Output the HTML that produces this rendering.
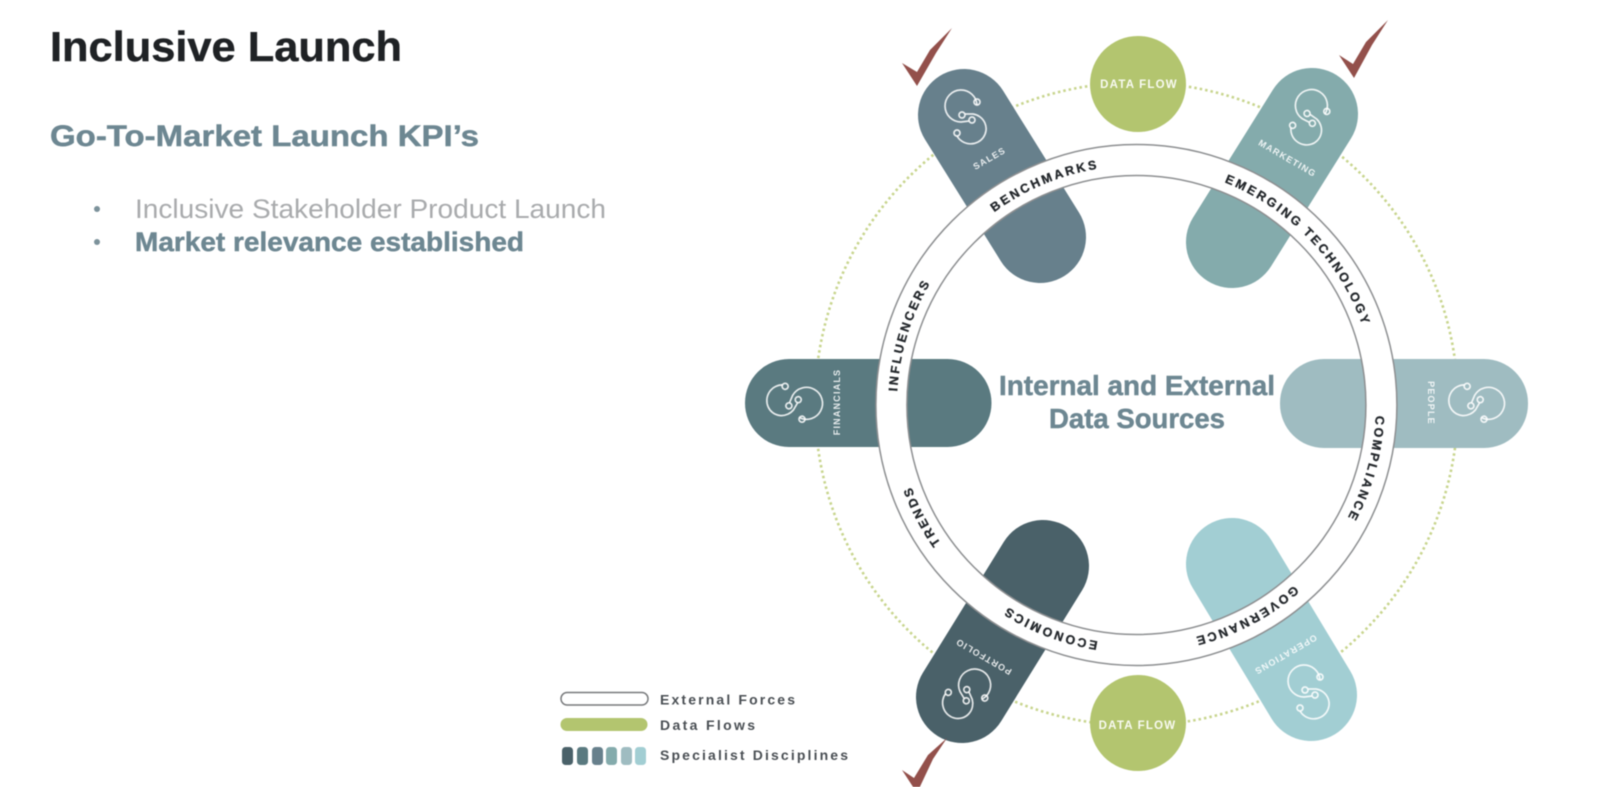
<!DOCTYPE html>
<html lang="en">
<head>
<meta charset="utf-8">
<title>Inclusive Launch</title>
<style>
html,body{margin:0;padding:0;background:#fff;width:1600px;height:787px;overflow:hidden}
svg{display:block;filter:blur(0.5px)}
text{font-family:"Liberation Sans",sans-serif}
.b{font-weight:700}
.h{stroke-width:.45px}
.ring{font-size:12.5px;font-weight:700;letter-spacing:2.45px;fill:#23272b;stroke:#23272b;stroke-width:.3px}
.pl{font-size:9px;font-weight:700;letter-spacing:1.2px;fill:#fff;fill-opacity:.85;text-anchor:middle}
.df{font-size:11.5px;font-weight:700;letter-spacing:1.2px;fill:#fff;fill-opacity:.9;text-anchor:middle}
.lg{font-size:14px;font-weight:700;fill:#4a4f54}
</style>
</head>
<body>
<svg width="1600" height="787" viewBox="0 0 1600 787" xmlns="http://www.w3.org/2000/svg">
<defs>
<g id="ic" fill="none" stroke="#fff" stroke-opacity=".85" stroke-width="1.7">
<path d="M10,-12 A16,16 0 1 0 -6,5 L2,4"/>
<path d="M-2,-3 L6,-3 A15.5,15 0 1 1 -10,19"/>
<circle cx="10" cy="-15" r="3"/>
<circle cx="-5" cy="-2" r="3"/>
<circle cx="5" cy="3" r="3"/>
<circle cx="-10" cy="16" r="3"/>
</g>
<path id="rp" d="M1136.4,165.5 A239.5,239.5 0 1 1 1136.39,165.5"/>
</defs>
<rect width="1600" height="787" fill="#fff"/>

<text class="b h" x="50" y="61" font-size="42" textLength="352" lengthAdjust="spacingAndGlyphs" fill="#1f2225" stroke="#1f2225">Inclusive Launch</text>
<text class="b h" x="50" y="146" font-size="30" textLength="429" lengthAdjust="spacingAndGlyphs" fill="#6d8792" stroke="#6d8792">Go-To-Market Launch KPI’s</text>
<circle cx="97" cy="209" r="3" fill="#7c929b"/>
<circle cx="97" cy="242" r="3" fill="#7c929b"/>
<text x="135" y="218" font-size="27" textLength="471" lengthAdjust="spacingAndGlyphs" fill="#a9abad">Inclusive Stakeholder Product Launch</text>
<text class="b h" x="135" y="251" font-size="27" textLength="389" lengthAdjust="spacingAndGlyphs" fill="#6d8792" stroke="#6d8792">Market relevance established</text>

<circle cx="1136.5" cy="404" r="321.5" fill="none" stroke="#c8d58e" stroke-width="2.6" stroke-dasharray="2.5 3"/>

<g fill="none" stroke-width="92" stroke-linecap="round">
<path d="M964,115 L1040,237" stroke="#67808c"/>
<path d="M1312,114 L1232,242" stroke="#84abac"/>
<path d="M962,697 L1043,566" stroke="#4a6169"/>
<path d="M1311,695 L1232,564" stroke="#a2ced3"/>
</g>
<rect x="745" y="359" width="246.5" height="88" rx="44" fill="#5a7a80"/>
<rect x="1280" y="359" width="248" height="89" rx="44" fill="#9fbcc1"/>

<circle cx="1138" cy="84" r="48" fill="#b3c56f"/>
<circle cx="1138" cy="723" r="48" fill="#b3c56f"/>
<text class="df" x="1139" y="88">DATA FLOW</text>
<text class="df" x="1137.5" y="729">DATA FLOW</text>

<circle cx="1136.4" cy="405" r="245" fill="none" stroke="#fff" stroke-width="31"/>
<circle cx="1136.4" cy="405" r="260.5" fill="none" stroke="#8d8f91" stroke-width="1.5"/>
<circle cx="1136.4" cy="405" r="229.5" fill="none" stroke="#8d8f91" stroke-width="1.5"/>

<g>
<text class="ring" text-anchor="middle"><textPath href="#rp" startOffset="93.7%">BENCHMARKS</textPath></text>
<text class="ring" text-anchor="middle"><textPath href="#rp" startOffset="12.85%">EMERGING TECHNOLOGY</textPath></text>
<text class="ring" text-anchor="middle"><textPath href="#rp" startOffset="29.31%">COMPLIANCE</textPath></text>
<text class="ring" text-anchor="middle"><textPath href="#rp" startOffset="42.36%">GOVERNANCE</textPath></text>
<text class="ring" text-anchor="middle"><textPath href="#rp" startOffset="55.86%">ECONOMICS</textPath></text>
<text class="ring" text-anchor="middle"><textPath href="#rp" startOffset="67.4%">TRENDS</textPath></text>
<text class="ring" text-anchor="middle"><textPath href="#rp" startOffset="79.75%">INFLUENCERS</textPath></text>
</g>

<use href="#ic" transform="translate(967,117)"/>
<use href="#ic" transform="translate(1310,118) rotate(35)"/>
<use href="#ic" transform="translate(794,403) rotate(120)"/>
<use href="#ic" transform="translate(1476,403) rotate(120)"/>
<use href="#ic" transform="translate(967,695) rotate(66)"/>
<use href="#ic" transform="translate(1310,692)"/>

<text class="pl" transform="translate(991,161) rotate(-30)">SALES</text>
<text class="pl" transform="translate(1286,161) rotate(30)">MARKETING</text>
<text class="pl" transform="translate(840,402) rotate(-90)">FINANCIALS</text>
<text class="pl" transform="translate(1428,403) rotate(90)">PEOPLE</text>
<text class="pl" transform="translate(985,654) rotate(210)">PORTFOLIO</text>
<text class="pl" transform="translate(1284,652) rotate(150)">OPERATIONS</text>

<text class="b h" x="1137" y="395" font-size="27.5" text-anchor="middle" textLength="276" lengthAdjust="spacingAndGlyphs" fill="#6d8792" stroke="#6d8792">Internal and External</text>
<text class="b h" x="1137" y="428" font-size="27.5" text-anchor="middle" textLength="176" lengthAdjust="spacingAndGlyphs" fill="#6d8792" stroke="#6d8792">Data Sources</text>

<g fill="#93504b">
<polygon points="952,28 936,53 917,86 902,63 917,72 930,50"/>
<polygon points="1388,20 1372,45 1354,78 1339,55 1353,64 1366,42"/>
<polygon points="947,738 933,759 917,793 902,770 914,778 928,755"/>
</g>

<rect x="561" y="692.5" width="87" height="12.5" rx="6.2" fill="#fff" stroke="#77797b" stroke-width="1.5"/>
<rect x="560.5" y="718" width="87" height="13" rx="6.5" fill="#b3c56f"/>
<g>
<rect x="562" y="747" width="11" height="18" rx="3.5" fill="#4a6169"/>
<rect x="577" y="747" width="11" height="18" rx="3.5" fill="#5a7a80"/>
<rect x="592" y="747" width="11" height="18" rx="3.5" fill="#67808c"/>
<rect x="606" y="747" width="11" height="18" rx="3.5" fill="#84abac"/>
<rect x="621" y="747" width="11" height="18" rx="3.5" fill="#9fbcc1"/>
<rect x="635" y="747" width="11" height="18" rx="3.5" fill="#a2ced3"/>
</g>
<text class="lg" x="660" y="704.5" textLength="135" lengthAdjust="spacing">External Forces</text>
<text class="lg" x="660" y="730" textLength="95" lengthAdjust="spacing">Data Flows</text>
<text class="lg" x="660" y="760" textLength="188" lengthAdjust="spacing">Specialist Disciplines</text>
</svg>
</body>
</html>
